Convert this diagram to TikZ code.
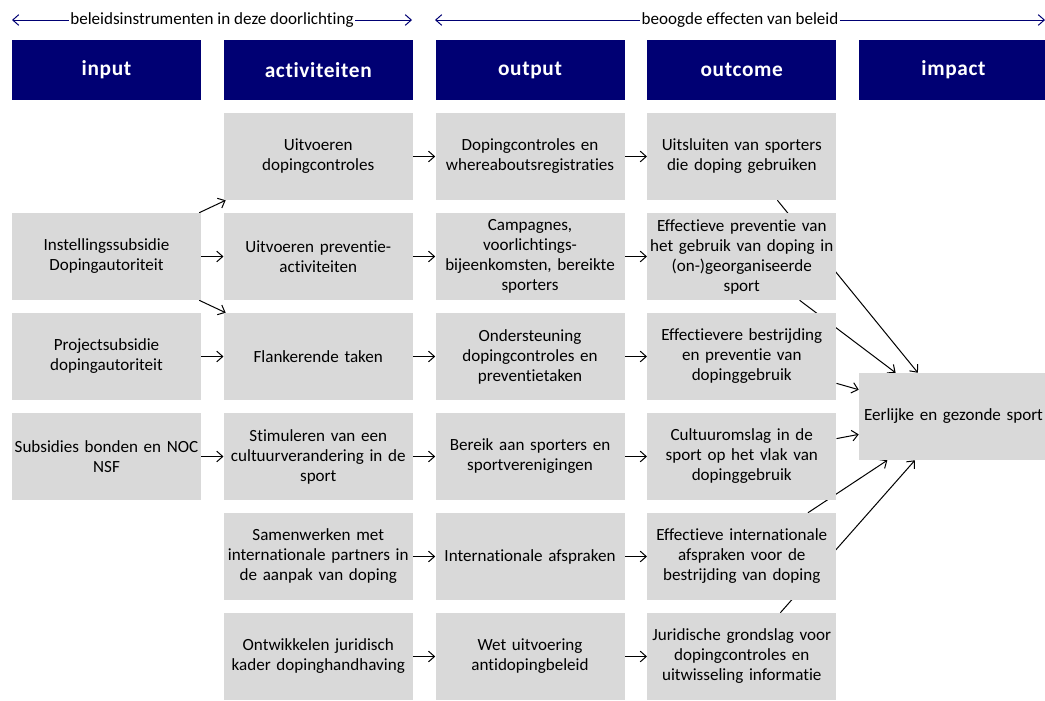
\documentclass[tikz,border=0pt]{standalone}
\usepackage{fontspec}
\setmainfont{Carlito}[Ligatures={NoCommon}]
\newfontfamily\headfont[LetterSpace=3,Ligatures={NoCommon}]{Carlito}
\usetikzlibrary{arrows.meta,backgrounds}
\definecolor{navy}{RGB}{0,0,115}
\definecolor{boxgray}{RGB}{217,217,217}

\begin{document}
\begin{tikzpicture}[x=0.75pt, y=-0.75pt, font=\fontsize{12.8}{15}\selectfont, line join=round, line cap=round, >={Straight Barb[length=4.5pt,width=8pt]},
	headbox/.style={fill=navy, text=white, minimum width=141.75pt, minimum height=45pt, inner sep=0pt, font=\headfont\bfseries\fontsize{16}{19}\selectfont},
	cellbox/.style={fill=boxgray, minimum width=141.75pt, minimum height=65.25pt, inner sep=0pt, text width=138pt, align=center},
	conn/.style={->, line width=0.75pt},
	spanarrow/.style={<->, navy, line width=0.75pt}]
		\useasboundingbox (0,0) rectangle (1045,700);
		% top arrows
		\coordinate (instL) at (12,20);
		\coordinate (instR) at (412,20);
		\coordinate (effL) at (435,20);
		\coordinate (effR) at (1045,20);
		\draw[spanarrow] (instL) -- (instR);
		\draw[spanarrow] (effL) -- (effR);
		\node[fill=white, inner xsep=1pt, inner ysep=0pt] (instlbl) at (212,20) {beleidsinstrumenten in deze doorlichting};
		\node[fill=white, inner xsep=1pt, inner ysep=0pt] (efflbl) at (740,20) {beoogde effecten van beleid};
		% headers
		\node[headbox] (hin) at (106.5,70) {input};
		\node[headbox] (hact) at (318.25,70) {activiteiten};
		\node[headbox] (hout) at (530,70) {output};
		\node[headbox] (hoc) at (741.75,70) {outcome};
		\node[headbox] (himp) at (953.5,70) {impact};
		% input
		\node[cellbox] (in2) at (106.5,256.5) {Instellingssubsidie\\Dopingautoriteit};
		\node[cellbox] (in3) at (106.5,356.5) {Projectsubsidie\\dopingautoriteit};
		\node[cellbox] (in4) at (106.5,456.5) {Subsidies bonden en NOC\\NSF};
		% activiteiten
		\node[cellbox] (act1) at (318.25,156.5) {Uitvoeren\\dopingcontroles};
		\node[cellbox] (act2) at (318.25,256.5) {Uitvoeren preventie-\\activiteiten};
		\node[cellbox] (act3) at (318.25,356.5) {Flankerende taken};
		\node[cellbox] (act4) at (318.25,456.5) {Stimuleren van een\\cultuurverandering in de\\sport};
		\node[cellbox] (act5) at (318.25,556.5) {Samenwerken met\\internationale partners in\\de aanpak van doping};
		\node[cellbox] (act6) at (318.25,656.5) {Ontwikkelen juridisch\\kader dopinghandhaving};
		% output
		\node[cellbox] (out1) at (530,156.5) {Dopingcontroles en\\whereaboutsregistraties};
		\node[cellbox] (out2) at (530,256.5) {Campagnes,\\voorlichtings-\\bijeenkomsten, bereikte\\sporters};
		\node[cellbox] (out3) at (530,356.5) {Ondersteuning\\dopingcontroles en\\preventietaken};
		\node[cellbox] (out4) at (530,456.5) {Bereik aan sporters en\\sportverenigingen};
		\node[cellbox] (out5) at (530,556.5) {Internationale afspraken};
		\node[cellbox] (out6) at (530,656.5) {Wet uitvoering\\antidopingbeleid};
		% outcome
		\node[cellbox] (oc1) at (741.75,156.5) {Uitsluiten van sporters\\die doping gebruiken};
		\node[cellbox] (oc2) at (741.75,256.5) {Effectieve preventie van\\het gebruik van doping in\\(on-)georganiseerde\\sport};
		\node[cellbox] (oc3) at (741.75,356.5) {Effectievere bestrijding\\en preventie van\\dopinggebruik};
		\node[cellbox] (oc4) at (741.75,456.5) {Cultuuromslag in de\\sport op het vlak van\\dopinggebruik};
		\node[cellbox] (oc5) at (741.75,556.5) {Effectieve internationale\\afspraken voor de\\bestrijding van doping};
		\node[cellbox] (oc6) at (741.75,656.5) {Juridische grondslag voor\\dopingcontroles en\\uitwisseling informatie};
		% impact
		\node[cellbox] (imp) at (953.5,416.5) {Eerlijke en gezonde sport};
		% connectors behind the boxes
		\begin{scope}[on background layer]
			\draw[conn] (in2) -- (act1);
			\draw[conn] (in2) -- (act2);
			\draw[conn] (in2) -- (act3);
			\draw[conn] (in3) -- (act3);
			\draw[conn] (in4) -- (act4);
			\draw[conn] (act1) -- (out1);
			\draw[conn] (act2) -- (out2);
			\draw[conn] (act3) -- (out3);
			\draw[conn] (act4) -- (out4);
			\draw[conn] (act5) -- (out5);
			\draw[conn] (act6) -- (out6);
			\draw[conn] (out1) -- (oc1);
			\draw[conn] (out2) -- (oc2);
			\draw[conn] (out3) -- (oc3);
			\draw[conn] (out4) -- (oc4);
			\draw[conn] (out5) -- (oc5);
			\draw[conn] (out6) -- (oc6);
			\draw[conn] (oc1) -- (imp);
			\draw[conn] (oc2) -- (imp);
			\draw[conn] (oc3) -- (imp);
			\draw[conn] (oc4) -- (imp);
			\draw[conn] (oc5) -- (imp);
			\draw[conn] (oc6) -- (imp);
		\end{scope}
	\end{tikzpicture}
\end{document}
